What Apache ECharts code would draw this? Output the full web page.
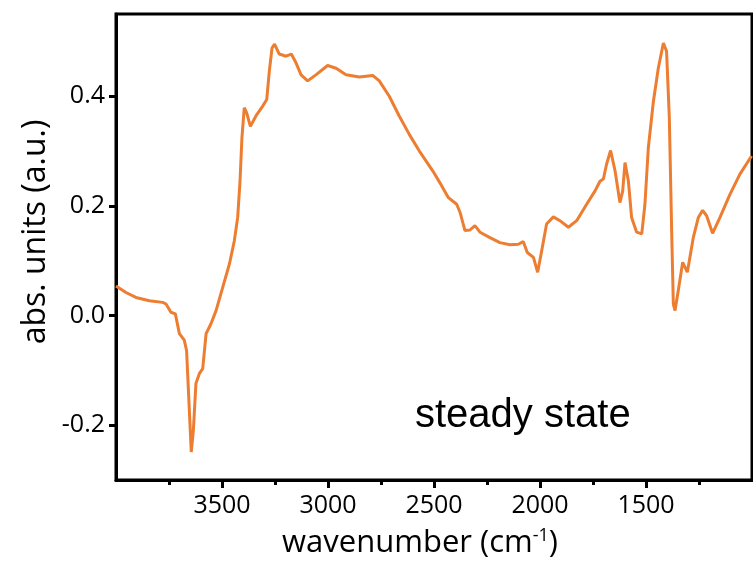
<!DOCTYPE html>
<html>
<head>
<meta charset="utf-8">
<script src="https://cdn.jsdelivr.net/npm/echarts@6/dist/echarts.min.js"></script>
<style>html,body{margin:0;padding:0;background:#fff}#c{width:753px;height:563px}</style>
</head>
<body>
<div id="c"></div>
<script>
const wavenumber = [4000,3953,3906,3843,3780,3764,3741,3720,3701,3678,3667,3657,3645,3635,3623,3607,3591,3575,3552,3528,3497,3465,3442,3426,3415,3406,3395,3384,3366,3340,3308,3289,3277,3264,3252,3230,3198,3173,3151,3127,3096,3057,3002,2962,2915,2852,2789,2758,2711,2664,2616,2569,2506,2472,2432,2393,2377,2354,2330,2307,2283,2236,2189,2142,2102,2079,2060,2031,2011,1992,1969,1937,1906,1866,1827,1780,1741,1717,1701,1686,1667,1646,1623,1610,1599,1583,1568,1544,1520,1505,1489,1465,1442,1418,1403,1390,1379,1371,1363,1348,1327,1305,1277,1253,1233,1214,1186,1151,1104,1057,1002];
const absorbance = [0.054,0.042,0.033,0.027,0.024,0.021,0.006,0.003,-0.033,-0.045,-0.064,-0.148,-0.249,-0.209,-0.124,-0.106,-0.097,-0.033,-0.015,0.009,0.051,0.094,0.136,0.179,0.245,0.324,0.379,0.370,0.345,0.364,0.382,0.394,0.445,0.488,0.495,0.477,0.473,0.477,0.461,0.439,0.428,0.439,0.456,0.451,0.439,0.435,0.438,0.428,0.400,0.364,0.330,0.300,0.264,0.242,0.215,0.203,0.188,0.155,0.156,0.164,0.152,0.142,0.133,0.129,0.130,0.135,0.115,0.106,0.079,0.118,0.167,0.180,0.173,0.161,0.173,0.203,0.227,0.245,0.249,0.276,0.301,0.264,0.206,0.227,0.279,0.245,0.179,0.152,0.149,0.203,0.306,0.391,0.451,0.497,0.482,0.361,0.155,0.021,0.009,0.045,0.097,0.079,0.142,0.179,0.192,0.182,0.150,0.179,0.221,0.258,0.291];
const xTickLabels = [1500,2000,2500,3000,3500];
const yTickLabels = [-0.2,0.0,0.2,0.4];
const annotation = 'steady state';

const font = 'Open Sans';
const chart = echarts.init(document.getElementById('c'), null, {renderer:'canvas'});
chart.setOption({
  animation:false,
  backgroundColor:'#fff',
  grid:{left:116,right:1,top:14,bottom:83,show:true,borderColor:'#000',borderWidth:3,containLabel:false},
  xAxis:{
    type:'value',inverse:true,min:1000,max:4000,interval:500,
    axisLine:{show:true,onZero:false,lineStyle:{color:'#000',width:3}},
    axisTick:{show:true,customValues:xTickLabels,length:8,inside:false,lineStyle:{color:'#000',width:3}},
    minorTick:{show:true,splitNumber:2,length:5,lineStyle:{color:'#000',width:3}},
    axisLabel:{customValues:xTickLabels,margin:13,fontFamily:font,fontSize:25,color:'#000',formatter:v=>String(v)},
    splitLine:{show:false}
  },
  yAxis:{
    type:'value',min:-0.3,max:0.55,
    axisLine:{show:true,onZero:false,lineStyle:{color:'#000',width:3}},
    axisTick:{show:true,customValues:yTickLabels,length:7,lineStyle:{color:'#000',width:3}},
    axisLabel:{customValues:yTickLabels,margin:11,fontFamily:font,fontSize:25,color:'#000',formatter:v=>v.toFixed(1)},
    splitLine:{show:false}
  },
  graphic:[
    {type:'text',left:415,top:396,style:{text:annotation,font:'40px "Liberation Sans", Arial',fill:'#000'}},
    {type:'text',x:36,y:232,rotation:Math.PI/2,style:{text:'abs. units (a.u.)',font:'32px "Open Sans"',fill:'#000',align:'center',verticalAlign:'middle'}},
    {type:'text',x:420,y:543,style:{text:'{a|wavenumber (cm}{s|-1}{a|)}',align:'center',verticalAlign:'middle',rich:{a:{font:'31px "Open Sans"',fill:'#000',verticalAlign:'bottom'},s:{font:'18px "Open Sans"',fill:'#000',verticalAlign:'top',padding:[0,0,14,0]}}}}
  ],
  series:[{
    type:'line',showSymbol:false,smooth:false,
    data:wavenumber.map((w,i)=>[w,absorbance[i]]),
    lineStyle:{color:'#ED7D31',width:3},
    clip:true
  }]
});
</script>
</body>
</html>
